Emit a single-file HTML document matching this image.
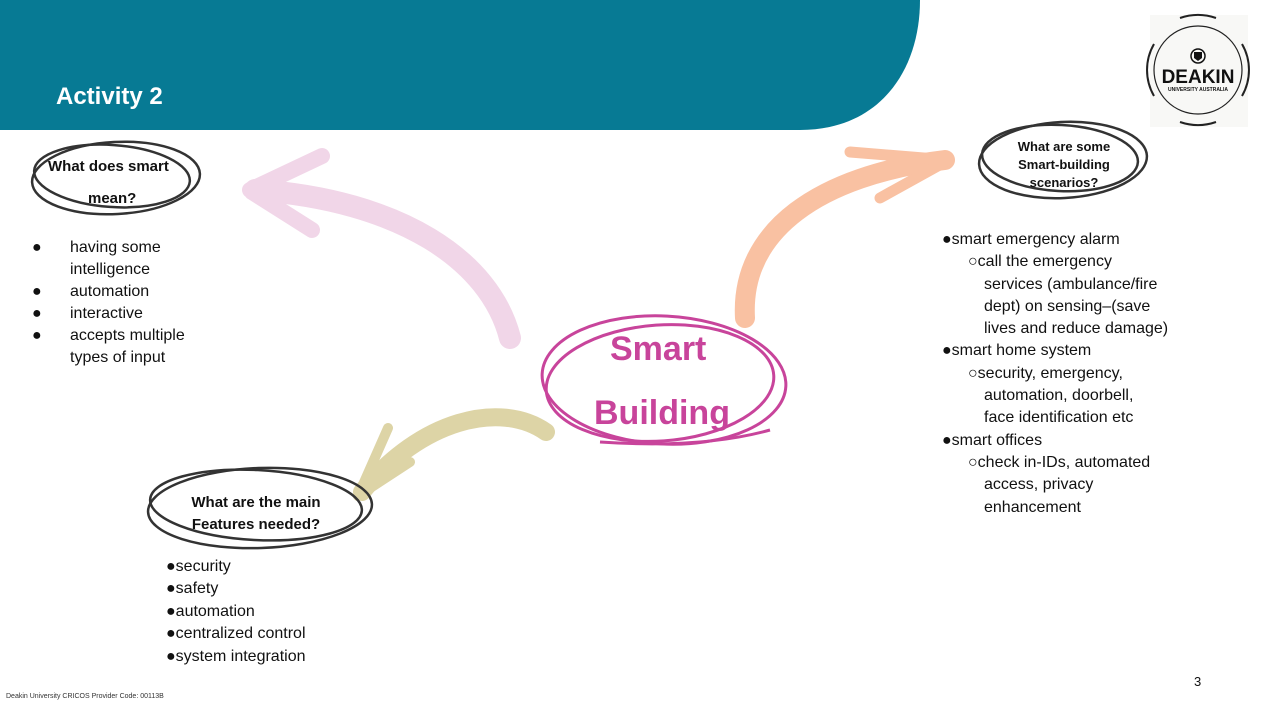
<!DOCTYPE html>
<html><head><meta charset="utf-8"><style>
body{margin:0;width:1280px;height:720px;overflow:hidden;background:#fff;font-family:"Liberation Sans",sans-serif;position:relative}
.t{position:absolute;font-size:16px;color:#111;white-space:nowrap;line-height:22px}
.b{font-weight:bold}
</style></head><body>
<svg width="1280" height="720" style="position:absolute;left:0;top:0">
<path d="M0 0H920C920 70 880 130 800 130H0Z" fill="#077a94"/>
<rect x="1150" y="15" width="98" height="112" fill="#f8f8f6"/>
<circle cx="1198" cy="70" r="44" fill="none" stroke="#222" stroke-width="1.2"/>
<path d="M1154 44A52 52 0 0 0 1154 96M1242 44A52 52 0 0 1 1242 96M1180 18A55 55 0 0 1 1216 18M1180 122A55 55 0 0 0 1216 122" fill="none" stroke="#222" stroke-width="2"/>
<circle cx="1198" cy="56" r="7" fill="none" stroke="#111" stroke-width="1.5"/>
<path d="M1194 52h8v6l-4 3-4-3z" fill="#111"/>
<text x="1198" y="83" font-size="19" font-weight="bold" text-anchor="middle" fill="#111" font-family="Liberation Sans">DEAKIN</text>
<text x="1198" y="91" font-size="5" font-weight="bold" text-anchor="middle" fill="#111">UNIVERSITY AUSTRALIA</text>
<g stroke="#f1d6e8" fill="none" stroke-linecap="round">
<path d="M510 338C490 260 400 200 255 190" stroke-width="22"/>
<path d="M250 190L322 156M252 192L312 230" stroke-width="16"/>
</g>
<g stroke="#f9c1a2" fill="none" stroke-linecap="round">
<path d="M745 318C740 230 820 175 945 160" stroke-width="20"/>
<path d="M948 160L850 152M945 162L880 198" stroke-width="11"/>
</g>
<g stroke="#ddd4a6" fill="none" stroke-linecap="round">
<path d="M546 432C500 400 420 420 362 492" stroke-width="18"/>
<path d="M358 496L388 428M358 496L410 462" stroke-width="10"/>
</g>
<g fill="none" stroke="#333" stroke-width="2.5">
<ellipse cx="116" cy="178" rx="84" ry="36" transform="rotate(-3 116 178)"/>
<ellipse cx="112" cy="176" rx="78" ry="31" transform="rotate(4 112 176)"/>
<ellipse cx="1063" cy="160" rx="84" ry="38" transform="rotate(-3 1063 160)"/>
<ellipse cx="1060" cy="158" rx="78" ry="33" transform="rotate(3 1060 158)"/>
<ellipse cx="260" cy="508" rx="112" ry="40" transform="rotate(-2 260 508)"/>
<ellipse cx="256" cy="505" rx="106" ry="35" transform="rotate(3 256 505)"/>
</g>
<g fill="none" stroke="#c8449b" stroke-width="3">
<ellipse cx="664" cy="380" rx="122" ry="64" transform="rotate(3 664 380)"/>
<ellipse cx="660" cy="383" rx="114" ry="58" transform="rotate(-4 660 383)"/>
<path d="M600 442C660 446 720 444 770 430"/>
</g>
</svg>
<div class="t b" style="left:56px;top:82px;font-size:24px;color:#fff;line-height:30px">Activity 2</div>
<div class="t b" style="left:48px;top:156px;font-size:15px">What does smart</div>
<div class="t b" style="left:88px;top:188px;font-size:15px">mean?</div>
<div class="t" style="left:32px;top:237px;line-height:22px">
<div><span style="display:inline-block;width:38px">●</span>having some</div>
<div style="padding-left:38px">intelligence</div>
<div><span style="display:inline-block;width:38px">●</span>automation</div>
<div><span style="display:inline-block;width:38px">●</span>interactive</div>
<div><span style="display:inline-block;width:38px">●</span>accepts multiple</div>
<div style="padding-left:38px">types of input</div>
</div>
<div class="t b" style="left:1010px;top:138px;font-size:13px;line-height:18px;text-align:center;width:108px">What are some<br>Smart-building<br>scenarios?</div>
<div class="t" style="left:942px;top:229px;line-height:22.3px">
<div>●smart emergency alarm</div>
<div style="padding-left:26px">○call the emergency</div>
<div style="padding-left:42px">services (ambulance/fire</div>
<div style="padding-left:42px">dept) on sensing–(save</div>
<div style="padding-left:42px">lives and reduce damage)</div>
<div>●smart home system</div>
<div style="padding-left:26px">○security, emergency,</div>
<div style="padding-left:42px">automation, doorbell,</div>
<div style="padding-left:42px">face identification etc</div>
<div>●smart offices</div>
<div style="padding-left:26px">○check in-IDs, automated</div>
<div style="padding-left:42px">access, privacy</div>
<div style="padding-left:42px">enhancement</div>
</div>
<div class="t b" style="left:610px;top:328px;font-size:34px;line-height:42px;color:#c8449b">Smart</div>
<div class="t b" style="left:594px;top:392px;font-size:34px;line-height:42px;color:#c8449b">Building</div>
<div class="t b" style="left:170px;top:492px;font-size:15px;line-height:22px;text-align:center;width:172px">What are the main<br>Features needed?</div>
<div class="t" style="left:166px;top:556px;line-height:22.4px">
<div>●security</div><div>●safety</div><div>●automation</div><div>●centralized control</div><div>●system integration</div>
</div>
<div class="t" style="left:1194px;top:671px;font-size:13px">3</div>
<div class="t" style="left:6px;top:692px;font-size:7px;line-height:10px;color:#333">Deakin University CRICOS Provider Code: 00113B</div>
</body></html>
